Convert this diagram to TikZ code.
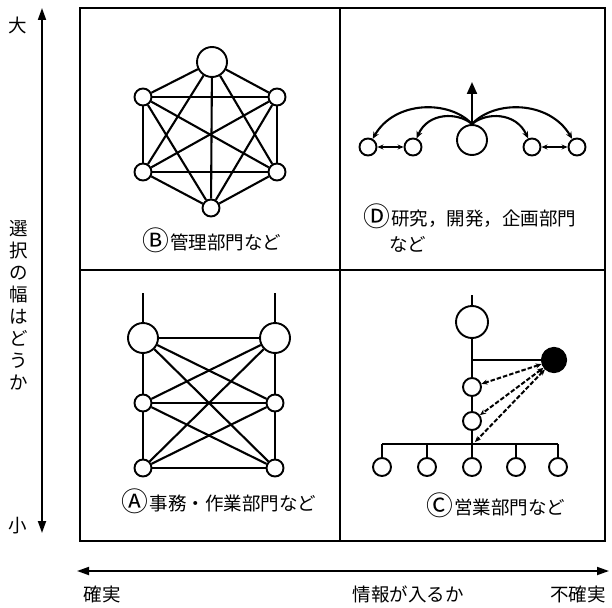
\documentclass[tikz,border=0pt]{standalone}
\usepackage{fontspec}
\usepackage{graphicx}
\newfontfamily\jp{Noto Sans CJK JP}
\newcommand{\circl}[1]{\raisebox{-0.06em}{\scalebox{1.45}{#1}}\hspace{0.06em}}
\usetikzlibrary{arrows.meta}
\begin{document}
\begin{tikzpicture}[x=1pt,y=-1pt,
  txt/.style={font=\jp\fontsize{18.5}{22}\selectfont,inner sep=0pt},
  big/.style={circle,draw,line width=1.9pt,minimum size=30pt,inner sep=0pt,fill=white},
  small/.style={circle,draw,line width=1.9pt,minimum size=17pt,inner sep=0pt,fill=white},
  blk/.style={circle,draw,fill=black,line width=1.2pt,minimum size=25pt,inner sep=0pt},
  edge/.style={line width=2.1pt},
  frame/.style={line width=1.6pt},
  tip/.style={-{Stealth[length=7pt,width=6pt]}},
  dtip/.style={{Stealth[length=6pt,width=5pt]}-{Stealth[length=6pt,width=5pt]}},
  dsh/.style={line width=2pt,dash pattern=on 4.5pt off 2pt},
  axis/.style={line width=1.8pt,{Triangle[length=12pt,width=8pt]}-{Triangle[length=12pt,width=8pt]}}
]
\useasboundingbox (0,0) rectangle (612,607);
% frame
\draw[frame] (80,8) rectangle (605,541);
\draw[frame] (340,8) -- (340,541);
\draw[frame] (80,270) -- (605,270);

% axes
\coordinate (vt) at (42,8);
\coordinate (vb) at (42,533);
\draw[axis] (vt) -- (vb);
\node[txt] (big1) at (18,25) {大};
\node[txt] (small1) at (18,526) {小};
\node[txt,align=center] (vlab) at (19,305) {選\\択\\の\\幅\\は\\ど\\う\\か};
\coordinate (hl) at (77,571);
\coordinate (hr) at (609,571);
\draw[axis] (hl) -- (hr);
\node[txt] (l1) at (102,594) {確実};
\node[txt] (l2) at (408,594) {情報が入るか};
\node[txt] (l3) at (578,594) {不確実};

% ---- B: top-left hexagon
\node[big] (b0) at (212,62) {};
\node[small] (b1) at (143,97) {};
\node[small] (b2) at (277,97) {};
\node[small] (b3) at (143,172) {};
\node[small] (b4) at (277,172) {};
\node[small] (b5) at (211,208) {};
\foreach \i/\j in {b0/b1,b0/b2,b0/b3,b0/b4,b0/b5,b1/b2,b1/b3,b1/b4,b1/b5,b2/b3,b2/b4,b2/b5,b3/b4,b3/b5,b4/b5}
  \draw[edge] (\i) -- (\j);
\node[txt] (blab) at (212,240) {\circl{Ⓑ}管理部門など};

% ---- A: bottom-left
\node[big] (a1) at (143,338) {};
\node[big] (a2) at (275,338) {};
\node[small] (a3) at (143,403) {};
\node[small] (a4) at (275,403) {};
\node[small] (a5) at (143,468) {};
\node[small] (a6) at (275,468) {};
\coordinate (at1) at (143,293);
\coordinate (at2) at (275,293);
\draw[edge] (at1) -- (a1);
\draw[edge] (at2) -- (a2);
\foreach \i/\j in {a1/a2,a1/a3,a1/a4,a1/a6,a2/a3,a2/a4,a2/a5,a3/a4,a3/a5,a3/a6,a4/a5,a4/a6,a5/a6}
  \draw[edge] (\i) -- (\j);
\node[txt] (alab) at (219,501) {\circl{Ⓐ}事務・作業部門など};

% ---- D: top-right
\node[big] (d0) at (472,140) {};
\node[small] (d1) at (368,147) {};
\node[small] (d2) at (413,147) {};
\node[small] (d3) at (532,147) {};
\node[small] (d4) at (577,147) {};
\coordinate (dtop) at (472,82);
\draw[edge,-{Triangle[length=12pt,width=10pt]}] (d0.north) -- (dtop);
\draw[edge,tip] (d0.north) .. controls (450,100) and (395,100) .. (d1);
\draw[edge,tip] (d0.north) .. controls (458,112) and (428,112) .. (d2);
\draw[edge,tip] (d0.north) .. controls (486,112) and (516,112) .. (d3);
\draw[edge,tip] (d0.north) .. controls (494,100) and (549,100) .. (d4);
\draw[line width=1.5pt,dtip] (d1) -- (d2);
\draw[line width=1.5pt,dtip] (d3) -- (d4);
\node[txt,anchor=west] (dlab1) at (363,216) {\circl{Ⓓ}研究，開発，企画部門};
\node[txt,anchor=west] (dlab2) at (389,244) {など};

% ---- C: bottom-right
\coordinate (ct) at (472,295);
\node[big,minimum size=32pt] (c0) at (472,322) {};
\node[small,minimum size=18pt] (c1) at (472,387) {};
\node[small,minimum size=18pt] (c2) at (472,421) {};
\coordinate (cbus) at (472,444);
\coordinate (cj) at (472,360);
\node[blk] (cb) at (554,360) {};
\draw[edge] (ct) -- (c0);
\draw[edge] (c0) -- (c1);
\draw[edge] (c1) -- (c2);
\draw[edge] (c2) -- (cbus);
\draw[edge] (cj) -- (cb);
\coordinate (bl) at (382,444);
\coordinate (br) at (558,444);
\draw[edge] (bl) -- (br);
\foreach \k/\x in {1/382,2/427,3/472,4/516,5/558}{
  \node[small,minimum size=18pt] (e\k) at (\x,467) {};
  \draw[edge] (\x,444) -- (e\k);
}
\coordinate (cbt) at (475,442);
\draw[dsh,dtip] (cb) -- (c1);
\draw[dsh,dtip] (cb) -- (c2);
\draw[dsh,dtip] (cb) -- (cbt);
\node[txt] (clab) at (496,505) {\circl{Ⓒ}営業部門など};
\end{tikzpicture}
\end{document}
